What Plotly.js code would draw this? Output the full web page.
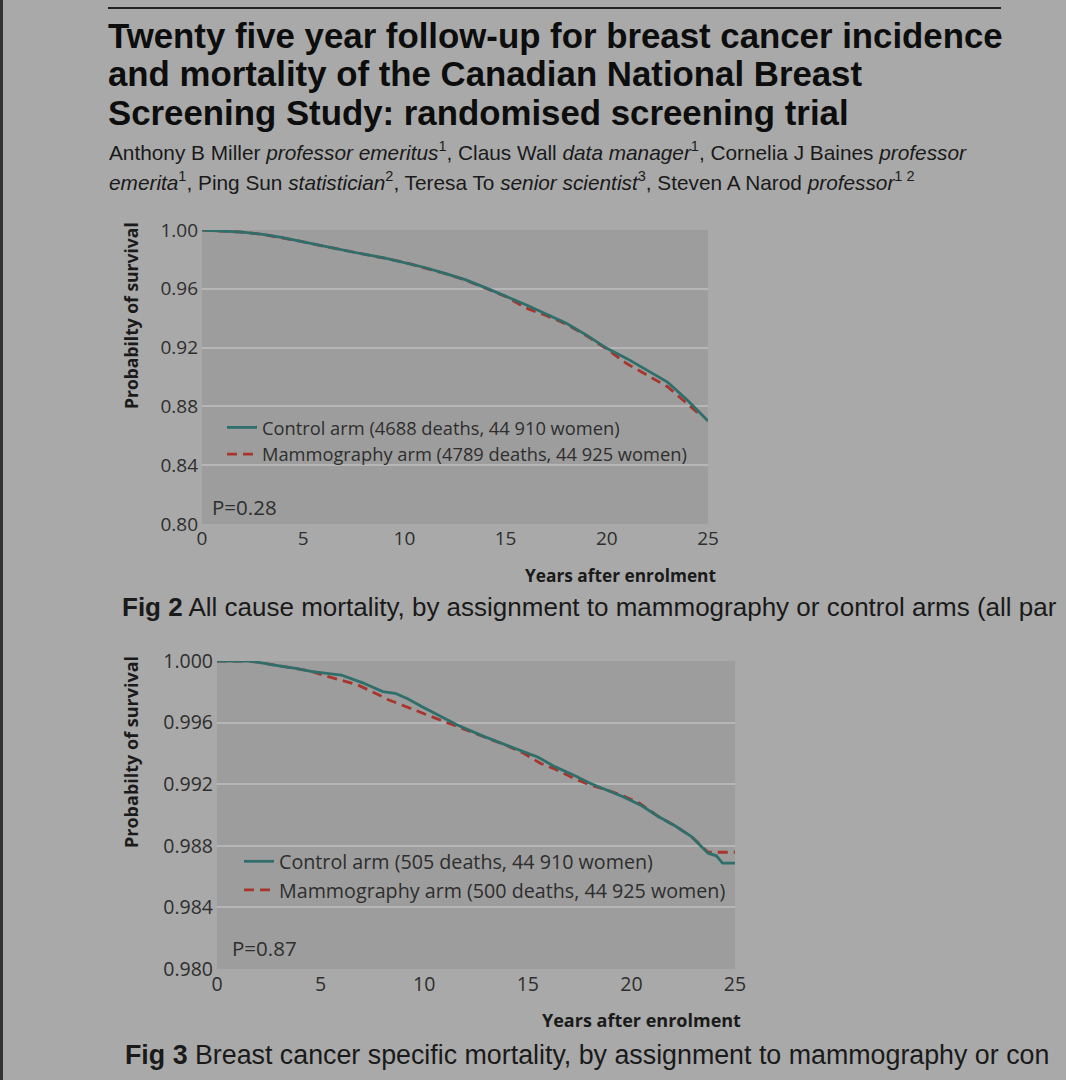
<!DOCTYPE html>
<html>
<head>
<meta charset="utf-8">
<script src="https://cdn.plot.ly/plotly-3.0.1.min.js"></script>
<style>html,body{margin:0;padding:0;background:#a9a9a9;}#chart{width:1066px;height:1080px;}</style>
</head>
<body>
<div id="chart"></div>
<script>
// ---------- Fig 2: all cause mortality ----------
var fig2Years = [0,1,2,3,4,5,6,7,8,9,10,11,12,13,14,15,16,17,18,19,20,21,22,23,24,25];
var fig2Control = [1.000,0.9995,0.9985,0.997,0.9948,0.992,0.989,0.9862,0.9835,0.981,0.978,0.9745,0.9705,0.9662,0.9608,0.955,0.9492,0.9428,0.9365,0.9285,0.9195,0.9125,0.9045,0.8965,0.884,0.870];
var fig2MammoYears = [0,1,2,3,4,5,6,7,8,9,10,11,12,13,14,15,16,17,18,19,20,21,22,23,24,24.5];
var fig2Mammo = [1.000,0.9995,0.9985,0.997,0.9947,0.992,0.989,0.9861,0.9833,0.9808,0.978,0.9744,0.9704,0.966,0.9605,0.9548,0.947,0.9418,0.936,0.928,0.919,0.909,0.9012,0.8934,0.8815,0.8755];
var fig2Names = ["Control arm (4688 deaths, 44 910 women)", "Mammography arm (4789 deaths, 44 925 women)"];
var fig2YTicks = [0.80,0.84,0.88,0.92,0.96,1.00];
var fig2YTickText = ["0.80","0.84","0.88","0.92","0.96","1.00"];
var fig2P = "P=0.28";

// ---------- Fig 3: breast cancer specific mortality ----------
var fig3Years = [0,1,1.6,3.0,3.8,4.6,5.3,6.0,7.0,8.0,8.6,9.2,9.9,10.8,11.6,12.9,14.6,15.5,16.3,17.2,18.0,19.6,20.5,21.3,22.1,22.9,23.7,24.1,24.4,25];
var fig3Control = [1,1,1,0.99968,0.99952,0.99931,0.9992,0.99909,0.9986,0.99801,0.9979,0.99755,0.99703,0.9964,0.99585,0.99509,0.99422,0.99375,0.99314,0.9926,0.99206,0.99119,0.9906,0.9899,0.9893,0.9886,0.98752,0.98735,0.98687,0.98687];
var fig3MammoYears = [0,1,1.6,3.0,3.8,4.6,5.1,6.0,6.8,7.5,8.3,9.1,10.0,10.8,11.6,12.9,14.0,14.8,15.6,16.4,17.2,18.0,18.8,19.6,20.4,21.3,22.1,22.9,23.7,24.4,25];
var fig3Mammo = [1,1,1,0.99968,0.99952,0.99931,0.99909,0.99875,0.99844,0.998,0.99747,0.99705,0.9966,0.99615,0.99574,0.99505,0.9945,0.99401,0.99336,0.99293,0.99239,0.99195,0.99163,0.99125,0.99076,0.9899,0.9893,0.9886,0.98758,0.98758,0.98758];
var fig3Names = ["Control arm (505 deaths, 44 910 women)", "Mammography arm (500 deaths, 44 925 women)"];
var fig3YTicks = [0.980,0.984,0.988,0.992,0.996,1.000];
var fig3YTickText = ["0.980","0.984","0.988","0.992","0.996","1.000"];
var fig3P = "P=0.87";

var xTicks = [0,5,10,15,20,25];
var xTickText = ["0","5","10","15","20","25"];
var yTitle = "Probabilty of survival";
var xTitle = "Years after enrolment";

var titleLines = [
  "Twenty five year follow-up for breast cancer incidence",
  "and mortality of the Canadian National Breast",
  "Screening Study: randomised screening trial"
];
var authorLines = [
  "Anthony B Miller <i>professor emeritus</i><sup>1</sup>, Claus Wall <i>data manager</i><sup>1</sup>, Cornelia J Baines <i>professor</i>",
  "<i>emerita</i><sup>1</sup>, Ping Sun <i>statistician</i><sup>2</sup>, Teresa To <i>senior scientist</i><sup>3</sup>, Steven A Narod <i>professor</i><sup>1 2</sup>"
];
var caption2 = "<b>Fig 2</b> All cause mortality, by assignment to mammography or control arms (all par";
var caption3 = "<b>Fig 3</b> Breast cancer specific mortality, by assignment to mammography or con";

// ---------- styling ----------
var W = 1066, H = 1080;
function px(x){ return x / W; }
function py(y){ return 1 - y / H; }
var teal = "#2f6e6a", red = "#a8352c";
var tickFont = "Open Sans, Lato, sans-serif";
var headFont = "Liberation Sans, Arial, sans-serif";
var tickColor = "#2e2e2e";

var traces = [
  {x: fig2MammoYears, y: fig2Mammo, name: fig2Names[1], mode: "lines", xaxis: "x", yaxis: "y", legend: "legend", legendrank: 2,
   line: {color: red, width: 2.8, dash: "10px,6px"}},
  {x: fig2Years, y: fig2Control, name: fig2Names[0], mode: "lines", xaxis: "x", yaxis: "y", legend: "legend", legendrank: 1,
   line: {color: teal, width: 2.8}},
  {x: fig3MammoYears, y: fig3Mammo, name: fig3Names[1], mode: "lines", xaxis: "x2", yaxis: "y2", legend: "legend2", legendrank: 2,
   line: {color: red, width: 2.8, dash: "10px,6px"}},
  {x: fig3Years, y: fig3Control, name: fig3Names[0], mode: "lines", xaxis: "x2", yaxis: "y2", legend: "legend2", legendrank: 1,
   line: {color: teal, width: 2.8}}
];

function xAxis(domain, anchor, size){
  return {domain: domain, anchor: anchor, range: [0, 25], tickmode: "array", tickvals: xTicks, ticktext: xTickText,
    showgrid: false, zeroline: false, showline: false, ticks: "", fixedrange: true, ticklabelstandoff: 1,
    tickfont: {family: tickFont, size: size, color: tickColor}};
}
function yAxis(domain, anchor, range, vals, text, size){
  return {domain: domain, anchor: anchor, range: range, tickmode: "array", tickvals: vals, ticktext: text,
    showgrid: true, gridcolor: "#b6b6b6", gridwidth: 2, zeroline: false, showline: false, ticks: "", fixedrange: true,
    ticklabelstandoff: 3,
    tickfont: {family: tickFont, size: size, color: tickColor}};
}

var annotations = [];
var titleY = [35, 73, 112];
titleLines.forEach(function(t, i){
  annotations.push({text: "<b>" + t + "</b>", xref: "paper", yref: "paper", x: px(106), y: py(titleY[i]),
    xanchor: "left", yanchor: "middle", showarrow: false, font: {family: headFont, size: 34.8, color: "#0d0d0d"}});
});
var authY = [151, 181];
authorLines.forEach(function(t, i){
  annotations.push({text: t, xref: "paper", yref: "paper", x: px(107), y: py(authY[i]),
    xanchor: "left", yanchor: "middle", showarrow: false, font: {family: headFont, size: 20.8, color: "#1a1a1a"}});
});
annotations.push({text: caption2, xref: "paper", yref: "paper", x: px(120), y: py(607), xanchor: "left", yanchor: "middle",
  showarrow: false, font: {family: headFont, size: 26.0, color: "#1a1a1a"}});
annotations.push({text: caption3, xref: "paper", yref: "paper", x: px(123), y: py(1055), xanchor: "left", yanchor: "middle",
  showarrow: false, font: {family: headFont, size: 26.8, color: "#1a1a1a"}});
// axis titles
annotations.push({text: "<b>" + yTitle + "</b>", xref: "paper", yref: "paper", x: px(131), y: py(316), textangle: -90,
  xanchor: "center", yanchor: "middle", showarrow: false, font: {family: tickFont, size: 17.5, color: "#1a1a1a"}});
annotations.push({text: "<b>" + yTitle + "</b>", xref: "paper", yref: "paper", x: px(131), y: py(752), textangle: -90,
  xanchor: "center", yanchor: "middle", showarrow: false, font: {family: tickFont, size: 18, color: "#1a1a1a"}});
annotations.push({text: "<b>" + xTitle + "</b>", xref: "paper", yref: "paper", x: px(718), y: py(575),
  xanchor: "right", yanchor: "middle", showarrow: false, font: {family: tickFont, size: 17.3, color: "#1a1a1a"}});
annotations.push({text: "<b>" + xTitle + "</b>", xref: "paper", yref: "paper", x: px(743), y: py(1020),
  xanchor: "right", yanchor: "middle", showarrow: false, font: {family: tickFont, size: 18, color: "#1a1a1a"}});
// P values
annotations.push({text: fig2P, xref: "paper", yref: "paper", x: px(210), y: py(507), xanchor: "left", yanchor: "middle",
  showarrow: false, font: {family: tickFont, size: 20.5, color: tickColor}});
annotations.push({text: fig3P, xref: "paper", yref: "paper", x: px(230), y: py(948), xanchor: "left", yanchor: "middle",
  showarrow: false, font: {family: tickFont, size: 20.5, color: tickColor}});

var layout = {
  width: W, height: H,
  margin: {l: 0, r: 0, t: 0, b: 0},
  paper_bgcolor: "#a9a9a9",
  plot_bgcolor: "#9d9d9d",
  showlegend: true,
  xaxis: xAxis([px(202), px(708)], "y", 19),
  yaxis: yAxis([py(524), py(230)], "x", [0.80, 1.00], fig2YTicks, fig2YTickText, 19),
  xaxis2: xAxis([px(217), px(735)], "y2", 19.5),
  yaxis2: yAxis([py(969), py(661)], "x2", [0.980, 1.000], fig3YTicks, fig3YTickText, 19.5),
  legend: {x: px(222), y: py(409), xanchor: "left", yanchor: "top", bgcolor: "rgba(0,0,0,0)", borderwidth: 0,
    font: {family: tickFont, size: 18.3, color: tickColor}, tracegroupgap: 0, itemwidth: 30},
  legend2: {x: px(239), y: py(842), xanchor: "left", yanchor: "top", bgcolor: "rgba(0,0,0,0)", borderwidth: 0,
    font: {family: tickFont, size: 19.7, color: tickColor}, tracegroupgap: 0, itemwidth: 30},
  annotations: annotations,
  shapes: [
    {type: "line", xref: "paper", yref: "paper", x0: px(108), x1: px(1001), y0: py(8), y1: py(8), line: {color: "#222", width: 2}},
    {type: "line", xref: "paper", yref: "paper", x0: px(1.5), x1: px(1.5), y0: 0, y1: 1, line: {color: "#333", width: 3}}
  ]
};

Plotly.newPlot("chart", traces, layout, {displayModeBar: false, staticPlot: true});
</script>
</body>
</html>
